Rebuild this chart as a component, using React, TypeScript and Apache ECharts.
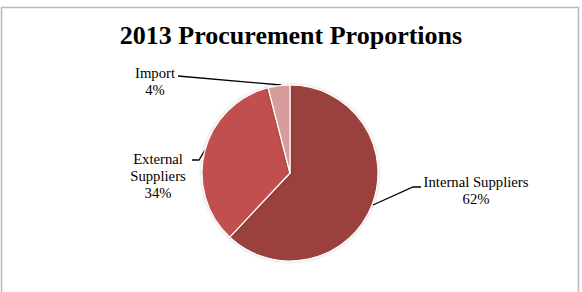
import React, { useEffect, useRef } from "react";
import * as echarts from "echarts";

const categories = ["Internal Suppliers", "External\nSuppliers", "Import"];
const values = [62, 34, 4];
const colors = ["#9A403D", "#C0504D", "#D89C9A"];
const labelPos = [
  { x: 476, y: 190, line: [[373, 205], [413, 187], [421, 187]] },
  { x: 158, y: 176, line: [[205, 150], [199, 160], [192, 160]] },
  { x: 155, y: 81, line: [[281, 85], [178, 76]] },
];

export default function App() {
  const ref = useRef<HTMLDivElement>(null);
  useEffect(() => {
    document.body.style.margin = "0";
    const chart = echarts.init(ref.current!, null, { renderer: "svg" });
    chart.setOption({
      animation: false,
      backgroundColor: "#ffffff",
      title: {
        text: "2013 Procurement Proportions",
        left: "center",
        top: 17,
        textStyle: {
          fontFamily: "Liberation Serif",
          fontWeight: "bold",
          fontSize: 26,
          color: "#000",
        },
      },
      graphic: [
        {
          type: "rect",
          shape: { x: 1.5, y: 7.5, width: 577, height: 300 },
          style: { fill: "none", stroke: "#b8b8b8", lineWidth: 1.5 },
          silent: true,
        },
      ],
      series: [
        {
          type: "pie",
          center: [290, 173],
          radius: 88,
          startAngle: 90,
          clockwise: true,
          itemStyle: {
            borderColor: "#ffffff",
            borderWidth: 1.2,
            shadowBlur: 3,
            shadowColor: "rgba(0,0,0,0.25)",
          },
          label: {
            show: true,
            position: "outside",
            formatter: (p: any) => `${p.name}\n${p.value}%`,
            fontFamily: "Liberation Serif",
            fontSize: 14.7,
            lineHeight: 17,
            color: "#000",
            align: "center",
          },
          labelLine: {
            show: true,
            lineStyle: { color: "#000", width: 1.3 },
          },
          labelLayout: (params: any) => {
            const lp = labelPos[params.dataIndex];
            return {
              x: lp.x,
              y: lp.y,
              align: "center",
              verticalAlign: "middle",
              labelLinePoints: lp.line,
            };
          },
          data: categories.map((c, i) => ({
            name: c,
            value: values[i],
            itemStyle: { color: colors[i] },
          })),
        },
      ],
    });
    return () => chart.dispose();
  }, []);
  return <div ref={ref} style={{ width: 582, height: 292 }} />;
}
